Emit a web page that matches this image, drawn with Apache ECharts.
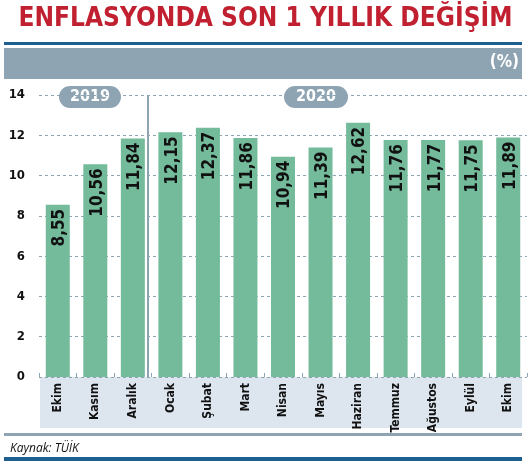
<!DOCTYPE html><html><head><meta charset="utf-8"><script src="https://cdn.jsdelivr.net/npm/echarts@6/dist/echarts.min.js"></script>
<style>html,body{margin:0;padding:0;background:#fff}#c{width:531px;height:464px}</style></head><body><div id="c"></div><script>
const categories=['Ekim','Kasım','Aralık','Ocak','Şubat','Mart','Nisan','Mayıs','Haziran','Temmuz','Ağustos','Eylül','Ekim'];
const values=[8.55,10.56,11.84,12.15,12.37,11.86,10.94,11.39,12.62,11.76,11.77,11.75,11.89];
const yTicks=[0,2,4,6,8,10,12,14];
const chart=echarts.init(document.getElementById('c'));
const F='"DejaVu Sans Condensed","Liberation Sans Narrow",sans-serif';
chart.setOption({
 animation:false,
 grid:{left:39,right:4,top:95,bottom:87},
 xAxis:{type:'category',data:categories,axisLine:{show:false},axisTick:{show:true,inside:true,length:4,lineStyle:{color:'#8ea4b3'}},
  axisLabel:{rotate:90,interval:0,margin:6,fontFamily:F,fontWeight:'bold',fontSize:12,color:'#111'}},
 yAxis:{type:'value',min:0,max:14,interval:2,axisLine:{show:false},axisTick:{show:false},
  axisLabel:{fontFamily:F,fontWeight:'bold',fontSize:13,color:'#111',margin:14,formatter:v=>yTicks.includes(v)?String(v):''},
  splitLine:{lineStyle:{color:'#8ea4b3',type:[3,3],width:1}}},
 series:[{type:'bar',data:values,barWidth:24,itemStyle:{color:'#74bb9c'},z:3,
  label:{show:true,position:'insideTop',rotate:90,align:'right',verticalAlign:'middle',offset:[0,2],distance:4,
   fontFamily:F,fontWeight:'bold',fontSize:17,color:'#111',formatter:p=>p.value.toFixed(2).replace('.',',')}}],
 graphic:[
  {type:'text',left:'center',top:6,style:{text:'ENFLASYONDA SON 1 YILLIK DEĞİŞİM',fontFamily:F,fontWeight:'bold',fontSize:26,fill:'#c0202f'}},
  {type:'rect',shape:{x:4,y:42,width:518,height:3},style:{fill:'#1d5f8e'},z:-1},
  {type:'rect',shape:{x:4,y:48,width:518,height:31},style:{fill:'#8ea4b3'},z:-1},
  {type:'text',right:12,top:54,style:{text:'(%)',fontFamily:F,fontWeight:'bold',fontSize:17,fill:'#fff'}},
  {type:'rect',shape:{x:40,y:377,width:482,height:51},style:{fill:'#dde5ee'},z:-1},
  {type:'rect',shape:{x:4,y:433,width:518,height:3},style:{fill:'#8ea4b3'},z:-1},
  {type:'text',left:10,top:443,style:{text:'Kaynak: TÜİK',fontFamily:'"Open Sans",sans-serif',fontStyle:'italic',fontSize:12,fill:'#111'}},
  {type:'rect',shape:{x:4,y:457,width:518,height:4},style:{fill:'#1d5f8e'},z:-1},
  {type:'rect',shape:{x:147,y:95,width:2,height:282},style:{fill:'#8ea4b3'},z:10},
  {type:'group',left:59,top:86,z:10,children:[{type:'rect',shape:{x:0,y:0,width:62,height:22,r:11},style:{fill:'#8ea4b3'}},
   {type:'text',style:{text:'2019',x:31,y:11,align:'center',verticalAlign:'middle',fontFamily:F,fontWeight:'bold',fontSize:16,fill:'#fff'}}]},
  {type:'group',left:284,top:86,z:10,children:[{type:'rect',shape:{x:0,y:0,width:64,height:22,r:11},style:{fill:'#8ea4b3'}},
   {type:'text',style:{text:'2020',x:32,y:11,align:'center',verticalAlign:'middle',fontFamily:F,fontWeight:'bold',fontSize:16,fill:'#fff'}}]}
 ]
});
</script></body></html>
